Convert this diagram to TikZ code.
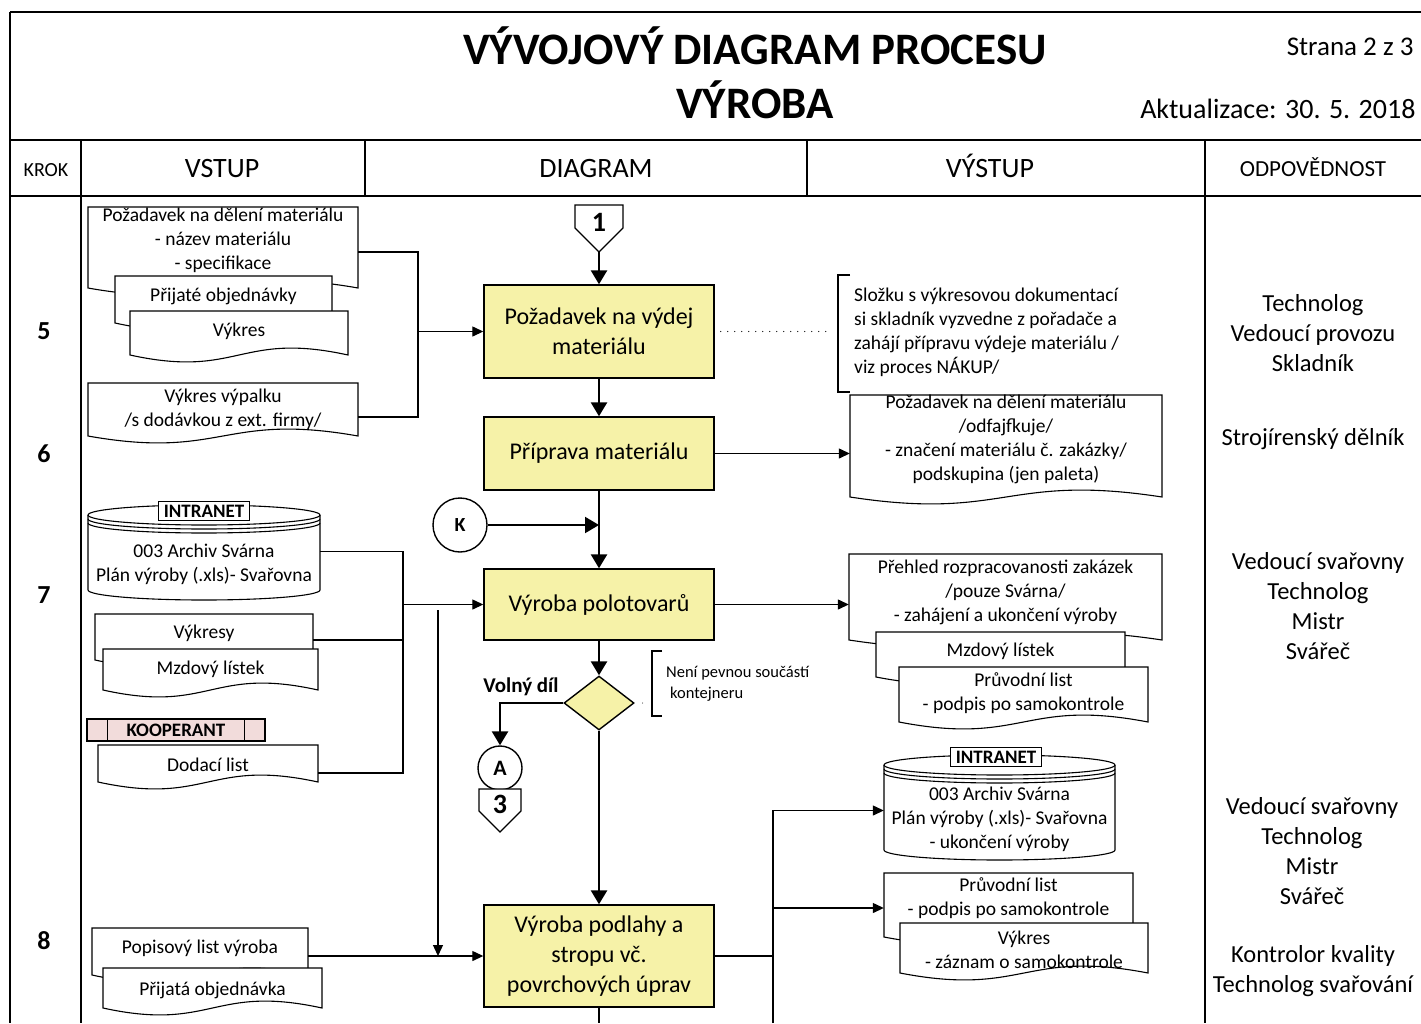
\documentclass[tikz,border=0pt]{standalone}
\usepackage{fontspec}
\setmainfont{Carlito}
\usetikzlibrary{arrows.meta,shapes.geometric}

\definecolor{procfill}{RGB}{246,242,168}
\definecolor{coopfill}{RGB}{242,220,219}

\newcommand{\fsz}[2]{\fontsize{#1}{#2}\selectfont}

% document symbol: name, x1, top, x2, side bottom, text centre, text
\newcommand{\docbox}[7]{%
	\filldraw[docfill] (#2,#3) -- (#2,#5)
		.. controls +({(#4-#2)/2},24) and +({-(#4-#2)/2},-24) .. (#4,#5) -- (#4,#3) -- cycle;
	\node[doctext, minimum width={(#4-#2)*1pt}, minimum height={2*(#6-#3)*1pt}] (#1) at ({(#2+#4)/2},#6) {#7};
}

% stored data symbol: name, x1, top rim, x2, base rim, text
\newcommand{\database}[6]{%
	\fill[white] (#2,#3) rectangle (#4,#5);
	\fill[white] ({(#2+#4)/2},#5) ellipse [x radius={(#4-#2)/2*1pt}, y radius=10pt];
	\draw[docline] (#2,#3) -- (#2,#5) arc[start angle=180, end angle=360, x radius={(#4-#2)/2*1pt}, y radius=10pt] -- (#4,#3);
	\filldraw[docfill] ({(#2+#4)/2},#3) ellipse [x radius={(#4-#2)/2*1pt}, y radius=10pt];
	\draw[docline] (#2,#3+4) arc[start angle=180, end angle=360, x radius={(#4-#2)/2*1pt}, y radius=10pt];
	\draw[docline] (#2,#3+8) arc[start angle=180, end angle=360, x radius={(#4-#2)/2*1pt}, y radius=10pt];
	\node[doctext, minimum width={(#4-#2)*1pt}] (#1) at ({(#2+#4)/2},{(#3+#5)/2+12}) {#6};
}

% off-page connector: name, x, top, half width, side height, label
\newcommand{\offpage}[6]{%
	\filldraw[docfill] (#2-#4,#3) -- (#2+#4,#3) -- (#2+#4,#3+#5) -- (#2,#3+#5+#4) -- (#2-#4,#3+#5) -- cycle;
	\node[pagenum, anchor=north, minimum width={2*#4*1pt}, minimum height={(#5+#4)*1pt}] (#1) at (#2,#3) {#6};
}

\begin{document}
\begin{tikzpicture}[x=1pt, y=-1pt,
		frame/.style={line width=2.4pt},
		grid/.style={line width=1.3pt},
		docline/.style={line width=1.1pt},
		docfill/.style={docline, fill=white},
		doctext/.style={inner sep=0pt, align=center, font=\fsz{19.5}{24}},
		proc/.style={draw, line width=1.4pt, fill=procfill, minimum width=230pt, align=center, font=\fsz{24}{30}},
		flow/.style={line width=2.6pt, -{Triangle[length=14pt,width=16pt]}},
		feed/.style={line width=1.3pt},
		feedarrow/.style={feed, -{Triangle[length=11pt,width=10pt]}},
		sparse/.style={line width=1.3pt, line cap=round, dash pattern=on 0pt off 7pt},
		conn/.style={circle, draw, line width=1.4pt, fill=white, inner sep=0pt, font=\bfseries\fsz{20}{24}},
		pagenum/.style={inner sep=0pt, text depth=12pt, font=\bfseries\fsz{28}{30}},
		tag/.style={draw, line width=1.1pt, fill=white, inner xsep=5pt, inner ysep=1pt, minimum height=19pt, font=\bfseries\fsz{19}{20}},
		coop/.style={draw, line width=1.1pt, fill=coopfill, minimum width=178pt, minimum height=22pt, inner sep=0pt, font=\bfseries\fsz{19}{20}},
		note/.style={align=left, inner sep=0pt, font=\fsz{19.5}{24}},
		role/.style={align=center, font=\fsz{24.5}{30}},
		stepno/.style={font=\bfseries\fsz{26}{30}},
		colhead/.style={anchor=base, font=\fsz{28}{32}}]
	\useasboundingbox (0,0) rectangle (1421,1023);

	\draw[frame] (10,12) -- (1421,12);
	\draw[frame] (10,12) -- (10,1023);
	\draw[frame] (10,140) -- (1421,140);
	\draw[frame] (10,196) -- (1421,196);
	\foreach \x in {81,365,807,1205} \draw[grid] (\x,140) -- (\x,196);
	\foreach \x in {81,1205} \draw[grid] (\x,196) -- (\x,1023);

	\node[anchor=base, font=\bfseries\fsz{45}{50}] (title) at (755,64) {VÝVOJOVÝ DIAGRAM PROCESU};
	\node[anchor=base, font=\bfseries\fsz{45}{50}] (title2) at (755,118) {VÝROBA};
	\node[anchor=base east, font=\fsz{27}{30}] (page) at (1417,55) {Strana 2 z 3};
	\node[anchor=base east, font=\fsz{28}{30}] (update) at (1419,118) {Aktualizace: 30. 5. 2018};

	\node[anchor=base, font=\fsz{20}{24}] (hkrok) at (46,176) {KROK};
	\node[colhead] (hin) at (222,177) {VSTUP};
	\node[colhead] (hdiag) at (596,177) {DIAGRAM};
	\node[colhead] (hout) at (990,177) {VÝSTUP};
	\node[anchor=base, font=\fsz{23}{26}] (hresp) at (1313,176) {ODPOVĚDNOST};

	\foreach \n/\y in {5/331,6/454,7/595,8/941} \node[stepno] (step\n) at (44,\y) {\n};

	% diagram column
	\offpage{off1}{599}{205}{24}{23}{1}
	\node[proc, minimum height=93pt] (reqbox) at (599,331.5) {Požadavek na výdej\\materiálu};
	\node[proc, minimum height=73pt] (prepbox) at (599,453.5) {Příprava materiálu};
	\node[conn, minimum size=54pt] (kconn) at (460,525) {K};
	\node[proc, minimum height=71pt] (prodbox) at (599,604.5) {Výroba polotovarů};
	\node[diamond, draw, line width=1.4pt, fill=procfill, minimum width=70pt, minimum height=54pt, inner sep=0pt] (choice) at (599,703) {};
	\node[conn, minimum size=44pt, font=\bfseries\fsz{22}{24}] (aconn) at (500,768) {A};
	\offpage{off3}{500}{789}{21}{22}{3}
	\node[proc, minimum height=102pt] (finbox) at (599,956) {Výroba podlahy a\\stropu vč.\\povrchových úprav};
	\coordinate (next8) at (599,1023);
	\node[font=\bfseries\fsz{21}{24}] (freepart) at (521,687) {Volný díl};

	\draw[flow] (off1.south) -- (reqbox);
	\draw[flow] (reqbox) -- (prepbox);
	\draw[flow] (prepbox) -- (prodbox);
	\draw[flow, line width=2pt] (kconn) -- (kconn -| prodbox);
	\draw[flow] (prodbox) -- (choice);
	\draw[flow] (choice.west) -| (aconn);
	\draw[flow] (choice) -- (finbox);
	\draw[flow, -] (finbox) -- (next8);

	\draw[grid] (850,275) -| (838,392) -- (850,392);
	\node[note, anchor=west] (stocknote) at (854,332) {Složku s výkresovou dokumentací\\si skladník vyzvedne z pořadače a\\zahájí přípravu výdeje materiálu /\\viz proces NÁKUP/};
	\coordinate (stockbr) at (832,331.5);
	\draw[sparse] ([xshift=6pt]reqbox.east) -- (stockbr);

	\draw[docline] (662,651) -| (652,716) -- (662,716);
	\node[note, anchor=west, font=\fsz{16.5}{21}] (loosenote) at (666,684) {Není pevnou součástí\\\hspace{4pt}kontejneru};
	\coordinate (loosebr) at (646,700);
	\draw[sparse, line width=1pt] ([xshift=8pt]choice.east) -- (loosebr);

	% inputs
	\docbox{reqdoc}{88}{207}{358}{288}{240}{Požadavek na dělení materiálu\\- název materiálu\\- specifikace}
	\docbox{orderdoc}{115}{276}{332}{323}{296}{Přijaté objednávky}
	\docbox{drawdoc}{130}{311}{348}{355}{331}{Výkres}
	\docbox{burndoc}{88}{383}{358}{436}{409}{Výkres výpalku\\/s dodávkou z ext. firmy/}
	\coordinate (in5) at (418,331.5);
	\draw[feed] ([yshift=-12pt]reqdoc.east) -| (in5);
	\draw[feed] ([yshift=-8pt]burndoc.east) -| (in5);
	\draw[feedarrow] (in5) -- (reqbox.west);

	\database{archin}{88}{515}{320}{590}{003 Archiv Svárna\\Plán výroby (.xls)- Svařovna}
	\node[tag] (tagin) at (204,511) {INTRANET};
	\docbox{drawsdoc}{95}{614}{313}{660}{633}{Výkresy}
	\docbox{wagedoc}{103}{649}{318}{690}{669}{Mzdový lístek}
	\node[coop] (coop) at (176,730) {KOOPERANT};
	\draw[docline] ([xshift=21pt]coop.north west) -- ([xshift=21pt]coop.south west);
	\draw[docline] ([xshift=-21pt]coop.north east) -- ([xshift=-21pt]coop.south east);
	\docbox{delivdoc}{98}{745}{318}{782}{765}{Dodací list}
	\coordinate (in7) at (403,604.5);
	\coordinate (drawsout) at ([yshift=-7pt]drawsdoc.east);
	\draw[feed] ([yshift=13pt]archin.east) -| (in7) |- ([yshift=-8pt]delivdoc.east);
	\draw[feed] (drawsout) -- (drawsout -| in7);
	\draw[feedarrow] (in7) -- (prodbox.west);

	\docbox{popdoc}{92}{928}{308}{975}{948}{Popisový list výroba}
	\docbox{orderdoc2}{103}{968}{322}{1008}{990}{Přijatá objednávka}
	\coordinate (in8top) at (438,610);
	\draw[feedarrow] ([yshift=-8pt]popdoc.east) -- (finbox.west);
	\draw[feedarrow] (in8top) -- (in8top |- finbox.west);

	% outputs
	\docbox{markdoc}{850}{395}{1162}{497}{439}{Požadavek na dělení materiálu\\/odfajfkuje/\\- značení materiálu č. zakázky/\\podskupina (jen paleta)}
	\draw[feedarrow] (prepbox.east) -- (prepbox.east -| markdoc.west);

	\docbox{progdoc}{849}{554}{1162}{640}{592}{Přehled rozpracovanosti zakázek\\/pouze Svárna/\\- zahájení a ukončení výroby}
	\docbox{wagedoc2}{876}{632}{1125}{677}{651}{Mzdový lístek}
	\docbox{guidedoc}{899}{667}{1148}{722}{693}{Průvodní list\\- podpis po samokontrole}
	\draw[feedarrow] (prodbox.east) -- (prodbox.east -| progdoc.west);

	\database{archout}{884}{765}{1115}{850}{003 Archiv Svárna\\Plán výroby (.xls)- Svařovna\\- ukončení výroby}
	\node[tag] (tagout) at (996,757) {INTRANET};
	\docbox{guidedoc2}{884}{873}{1133}{937}{898}{Průvodní list\\- podpis po samokontrole}
	\docbox{drawdoc2}{900}{923}{1148}{973}{949.5}{Výkres\\- záznam o samokontrole}
	\coordinate (out8) at (773,956);
	\coordinate (out8end) at (773,1023);
	\coordinate (guide2in) at ([yshift=-10pt]guidedoc2.west);
	\draw[feed] (finbox.east) -- (out8);
	\draw[feedarrow] (out8end) -- (out8) |- ([yshift=9pt]archout.west);
	\draw[feedarrow] (guide2in -| out8) -- (guide2in);

	% responsibilities
	\node[role] (role5) at (1313,333) {Technolog\\Vedoucí provozu\\Skladník};
	\node[role] (role6) at (1313,439) {Strojírenský dělník};
	\node[role] (role7) at (1318,606) {Vedoucí svařovny\\Technolog\\Mistr\\Svářeč};
	\node[role] (role8) at (1312,851) {Vedoucí svařovny\\Technolog\\Mistr\\Svářeč};
	\node[role] (role8b) at (1313,971) {Kontrolor kvality\\Technolog svařování};
\end{tikzpicture}
\end{document}
